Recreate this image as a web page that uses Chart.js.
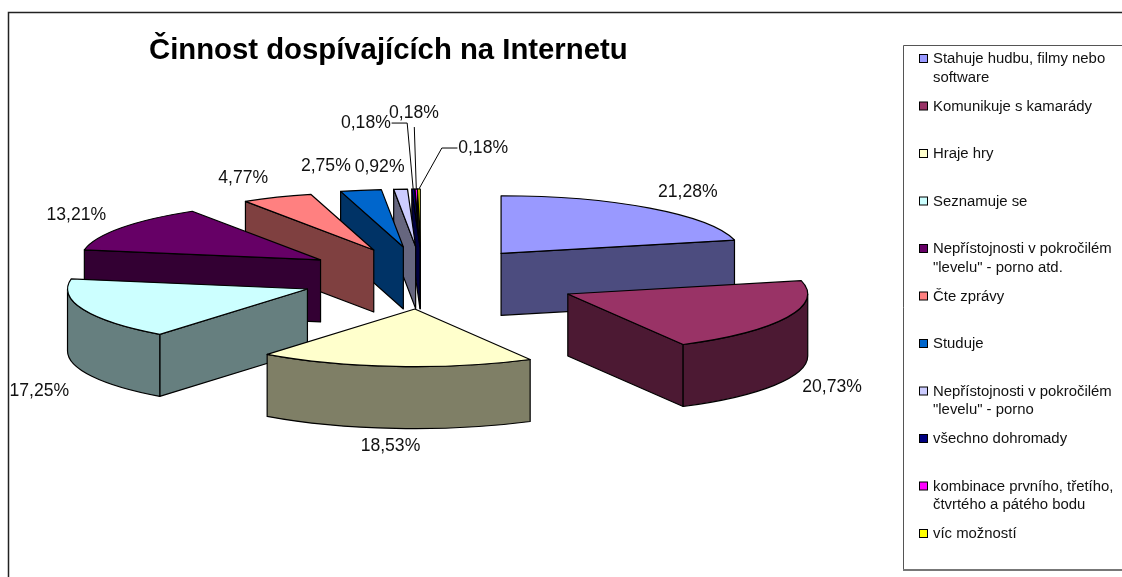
<!DOCTYPE html>
<html lang="cs">
<head>
<meta charset="utf-8">
<style>
html,body{margin:0;padding:0;background:#fff;overflow:hidden}
#wrap{position:absolute;left:0;top:0;width:1122px;height:577px}
</style>
<script src="https://cdn.jsdelivr.net/npm/chart.js@4/dist/chart.umd.js"></script>
</head>
<body>
<div id="wrap"><canvas id="c" width="1122" height="577"></canvas></div>
<script>
const chartTitle = 'Činnost dospívajících na Internetu';
const categories = [
  'Stahuje hudbu, filmy nebo software',
  'Komunikuje s kamarády',
  'Hraje hry',
  'Seznamuje se',
  'Nepřístojnosti v pokročilém "levelu" - porno atd.',
  'Čte zprávy',
  'Studuje',
  'Nepřístojnosti v pokročilém "levelu" - porno',
  'všechno dohromady',
  'kombinace prvního, třetího, čtvrtého a pátého bodu',
  'víc možností'
];
const legendLines = [
  ['Stahuje hudbu, filmy nebo','software'],
  ['Komunikuje s kamarády'],
  ['Hraje hry'],
  ['Seznamuje se'],
  ['Nepřístojnosti v pokročilém','"levelu" - porno atd.'],
  ['Čte zprávy'],
  ['Studuje'],
  ['Nepřístojnosti v pokročilém','"levelu" - porno'],
  ['všechno dohromady'],
  ['kombinace prvního, třetího,','čtvrtého a pátého bodu'],
  ['víc možností']
];
const values = [21.28,20.73,18.53,17.25,13.21,4.77,2.75,0.92,0.18,0.18,0.18];
const colors = ['#9999FF','#993366','#FFFFCC','#CCFFFF','#660066','#FF8080','#0066CC','#CCCCFF','#000080','#FF00FF','#FFFF00'];
const explode = [124,159,120,126,124,126,125,125,125,125,125];
const nudgeX = [0.7,-1,1,1.6,0,1,2,0,0,-1,-2.5];
const nudgeY = [-2.3,-0.5,1.3,-0.8,-2.5,-1.3,-2.5,-2.4,-2.4,-2.4,-2.4];
const labelOffsets = [[38,-16.4],[45,70],[-5,79.6],[-44,81.4],[-45,-13],[-34,-19],[-35,-24],[-21,-22],[-47.3,-66],[-2.3,-76],[64.2,-41]];
const leaders = {8:[[-6,-66],[-21.6,-66]],9:[[-2,-62]],10:[[22.9,-41],[38.5,-41]]};
const drawFirst = [9];

const TILT = 0.24, DEPTH = 62, CY = 279;
const labelFont = '17.6px "Liberation Sans", Arial, sans-serif';
const legendFont = '14.9px "Liberation Sans", Arial, sans-serif';
const INK = '#111';

function shade(hex){
  const n = parseInt(hex.slice(1),16);
  return `rgb(${(n>>16&255)>>1},${(n>>8&255)>>1},${(n&255)>>1})`;
}
function fmt(v){ return v.toFixed(2).replace('.',',') + '%'; }

const pie3d = {
  id:'pie3d',
  beforeDatasetsDraw(chart){
    const ctx = chart.ctx;
    // outer frame and legend frame
    ctx.save();
    ctx.strokeStyle = '#222'; ctx.lineWidth = 1.5;
    ctx.beginPath(); ctx.moveTo(8.5,577); ctx.lineTo(8.5,12.5); ctx.lineTo(1122,12.5); ctx.stroke();
    ctx.strokeStyle = '#555'; ctx.lineWidth = 1;
    ctx.beginPath(); ctx.moveTo(1122,45.5); ctx.lineTo(903.5,45.5); ctx.lineTo(903.5,570); ctx.stroke();
    ctx.strokeStyle = '#777'; ctx.lineWidth = 2;
    ctx.beginPath(); ctx.moveTo(903,570); ctx.lineTo(1122,570); ctx.stroke();
    ctx.restore();

    const arcs = chart.getDatasetMeta(0).data;
    const items = arcs.map((a,i)=>{
      const p = a.getProps(['x','y','startAngle','endAngle','outerRadius'],true);
      const mid = (p.startAngle+p.endAngle)/2;
      return {i,a,...p,mid,
        ax:p.x+Math.cos(mid)*explode[i]+nudgeX[i],
        ay:CY+Math.sin(mid)*explode[i]*TILT+nudgeY[i],
        ry:p.outerRadius*TILT};
    });
    // painter's order: far slices first (canvas angle PI/2 is the viewer side)
    const order = items.slice().sort((u,v)=>
      (drawFirst.includes(v.i)-drawFirst.includes(u.i)) ||
      (Math.abs(v.mid-Math.PI/2)-Math.abs(u.mid-Math.PI/2)));
    ctx.save();
    ctx.lineWidth = 1.2; ctx.strokeStyle = '#000'; ctx.lineJoin='round';
    for(const s of order){
      const R = s.outerRadius, wall = shade(colors[s.i]);
      // radial faces
      [[s.endAngle,Math.sin(s.endAngle+Math.PI/2)>0],[s.startAngle,Math.sin(s.startAngle+Math.PI/2)<0]].forEach(([t,vis])=>{
        if(!vis) return;
        const ex=s.ax+R*Math.cos(t), ey=s.ay+s.ry*Math.sin(t);
        ctx.beginPath();
        ctx.moveTo(s.ax,s.ay); ctx.lineTo(ex,ey); ctx.lineTo(ex,ey+DEPTH); ctx.lineTo(s.ax,s.ay+DEPTH); ctx.closePath();
        ctx.fillStyle = wall; ctx.fill(); ctx.stroke();
      });
      // outer rim, only its viewer-facing part
      const norm = t=>{ while(t>Math.PI*1.5) t-=2*Math.PI; while(t<-Math.PI/2) t+=2*Math.PI; return t; };
      const st = norm(s.startAngle), en = st+(s.endAngle-s.startAngle);
      const t1 = Math.max(st,0), t2 = Math.min(en,Math.PI);
      if(t2>t1){
        ctx.beginPath();
        ctx.ellipse(s.ax,s.ay,R,s.ry,0,t1,t2,false);
        ctx.ellipse(s.ax,s.ay+DEPTH,R,s.ry,0,t2,t1,true);
        ctx.closePath();
        ctx.fillStyle = wall; ctx.fill(); ctx.stroke();
      }
      // top face: the library's own arc, squashed and exploded
      ctx.save();
      ctx.translate(s.ax,s.ay); ctx.scale(1,TILT); ctx.translate(-s.x,-s.y);
      s.a.draw(ctx);
      ctx.restore();
      ctx.beginPath();
      ctx.moveTo(s.ax,s.ay);
      ctx.ellipse(s.ax,s.ay,R,s.ry,0,s.startAngle,s.endAngle,false);
      ctx.closePath(); ctx.stroke();
    }
    ctx.restore();

    // value labels and leader lines
    ctx.save();
    ctx.font = labelFont; ctx.fillStyle = INK; ctx.textAlign='center'; ctx.textBaseline='middle';
    for(const s of items){
      const rx = s.ax+s.outerRadius*Math.cos(s.mid), ry = s.ay+s.ry*Math.sin(s.mid);
      const [ox,oy] = labelOffsets[s.i];
      ctx.fillText(fmt(values[s.i]), rx+ox, ry+oy);
      if(leaders[s.i]){
        ctx.strokeStyle='#000'; ctx.lineWidth=1;
        ctx.beginPath(); ctx.moveTo(rx,ry);
        leaders[s.i].forEach(([lx,ly])=>ctx.lineTo(rx+lx,ry+ly));
        ctx.stroke();
      }
    }
    // legend
    ctx.font = legendFont; ctx.textAlign='left';
    legendLines.forEach((lines,i)=>{
      const y = 59+47.5*i;
      ctx.fillStyle = colors[i]; ctx.strokeStyle='#000'; ctx.lineWidth=1;
      ctx.fillRect(919.5,y-4.5,8,8); ctx.strokeRect(919.5,y-4.5,8,8);
      ctx.fillStyle = INK;
      lines.forEach((t,k)=>ctx.fillText(t,933,y+k*18.7));
    });
    ctx.restore();
    return false;
  }
};

new Chart(document.getElementById('c'),{
  type:'pie',
  data:{labels:categories,datasets:[{data:values,backgroundColor:colors,borderWidth:0}]},
  options:{
    responsive:false,animation:false,
    layout:{padding:{left:149,right:424,top:0,bottom:27}},
    plugins:{
      legend:{display:false},
      tooltip:{enabled:false},
      title:{display:true,text:chartTitle,align:'start',color:'#000',
        font:{family:'"Liberation Sans", Arial, sans-serif',size:29.3,weight:'bold',lineHeight:1.2},
        padding:{top:33,bottom:2}}
    }
  },
  plugins:[pie3d]
});
</script>
</body>
</html>
